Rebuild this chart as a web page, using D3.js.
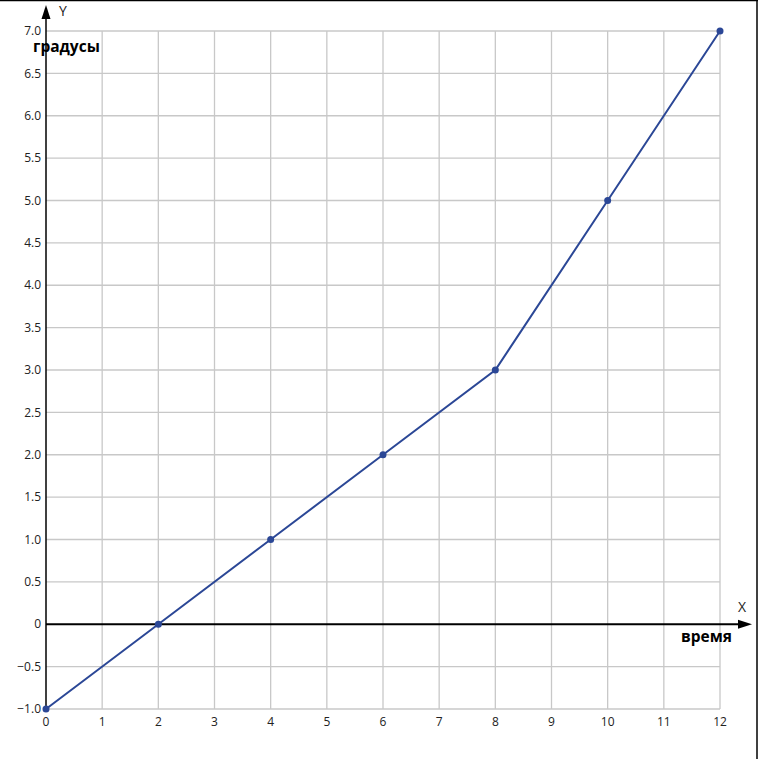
<!DOCTYPE html>
<html><head><meta charset="utf-8">
<script src="https://cdn.jsdelivr.net/npm/d3@7"></script>
<style>body{margin:0;background:#fff}svg{display:block}text{font-family:"Open Sans","Noto Sans",sans-serif}</style>
</head><body>
<script>
const xValues = [0, 2, 4, 6, 8, 10, 12];
const yValues = [-1, 0, 1, 2, 3, 5, 7];
const xTicks = [0,1,2,3,4,5,6,7,8,9,10,11,12];
const yTicks = [-1,-0.5,0,0.5,1,1.5,2,2.5,3,3.5,4,4.5,5,5.5,6,6.5,7];
const xAxisTitle = "время";
const yAxisTitle = "градусы";

const W = 758, H = 759;
const svg = d3.select("body").append("svg").attr("width", W).attr("height", H);
const x = d3.scaleLinear().domain([0, 12]).range([46, 720]);
const y = d3.scaleLinear().domain([-1, 7]).range([709, 31]);

// border
svg.append("line").attr("x1",0).attr("x2",W).attr("y1",0.5).attr("y2",0.5).attr("stroke","#000").attr("stroke-width",1.5);
svg.append("line").attr("x1",757).attr("x2",757).attr("y1",0).attr("y2",H).attr("stroke","#000").attr("stroke-width",1.5);

// grid
svg.append("g").selectAll("line").data(xTicks.filter(d=>d>0)).join("line")
  .attr("x1",d=>x(d)).attr("x2",d=>x(d)).attr("y1",y(7)).attr("y2",y(-1))
  .attr("stroke","#c8c8c8").attr("stroke-width",1.3);
svg.append("g").selectAll("line").data(yTicks.filter(d=>d!==0)).join("line")
  .attr("x1",x(0)).attr("x2",x(12)).attr("y1",d=>y(d)).attr("y2",d=>y(d))
  .attr("stroke","#c8c8c8").attr("stroke-width",1.3);

// tick labels
svg.append("g").selectAll("text").data(yTicks).join("text")
  .attr("x", 41).attr("y", d=>y(d)).attr("dy","0.35em").attr("text-anchor","end")
  .attr("font-size",12).attr("fill","#222")
  .text(d=> d===0 ? "0" : d3.format(".1f")(d));
svg.append("g").selectAll("text").data(xTicks).join("text")
  .attr("x", d=>x(d)).attr("y", 726).attr("text-anchor","middle")
  .attr("font-size",12).attr("fill","#222")
  .text(d=>d);

// axes
svg.append("line").attr("x1",x(0)).attr("x2",x(0)).attr("y1",15).attr("y2",y(-1)).attr("stroke","#000").attr("stroke-width",1.5);
svg.append("path").attr("d",`M${x(0)},5 L${x(0)-4.5},19 L${x(0)+4.5},19 Z`).attr("fill","#000");
svg.append("line").attr("x1",x(0)).attr("x2",742).attr("y1",y(0)).attr("y2",y(0)).attr("stroke","#000").attr("stroke-width",2);
svg.append("path").attr("d",`M752,${y(0)} L738,${y(0)-4.5} L738,${y(0)+4.5} Z`).attr("fill","#000");

svg.append("text").attr("x",59).attr("y",16).attr("font-size",14).attr("fill","#222").text("Y");
svg.append("text").attr("x",738).attr("y",612).attr("font-size",14).attr("fill","#222").text("X");
svg.append("text").attr("x",33).attr("y",52).attr("font-size",15.5).attr("font-weight","bold").attr("fill","#000").text(yAxisTitle);
svg.append("text").attr("x",732).attr("y",642).attr("text-anchor","end").attr("font-size",15.5).attr("font-weight","bold").attr("fill","#000").text(xAxisTitle);

// series
const pts = xValues.map((d,i)=>[d, yValues[i]]);
svg.append("path").datum(pts)
  .attr("d", d3.line().x(d=>x(d[0])).y(d=>y(d[1])))
  .attr("fill","none").attr("stroke","#2b4796").attr("stroke-width",2);
svg.append("g").selectAll("circle").data(pts).join("circle")
  .attr("cx",d=>x(d[0])).attr("cy",d=>y(d[1])).attr("r",3.5).attr("fill","#2b4796");
</script>
</body></html>
